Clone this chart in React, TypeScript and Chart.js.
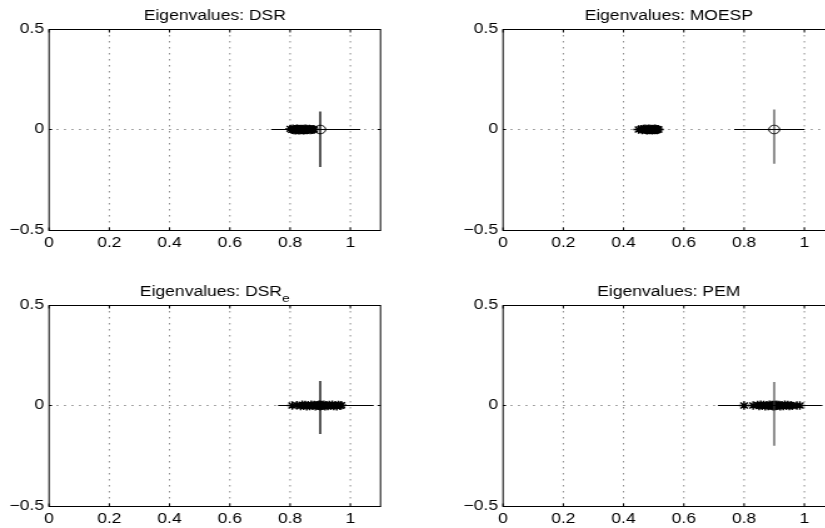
import React, { useEffect, useRef } from "react";
import { Chart, registerables } from "chart.js";

Chart.register(...registerables);

// ---------- data ----------
const xTicks = [0, 0.2, 0.4, 0.6, 0.8, 1];
const xTickLabels = ["0", "0.2", "0.4", "0.6", "0.8", "1"];
const yTicks = [-0.5, 0, 0.5];
const yTickLabels = ["\u22120.5", "0", "0.5"];
const xRange = [0, 1.1];
const yRange = [-0.5, 0.5];

const panelTitles = ["Eigenvalues: DSR", "Eigenvalues: MOESP", "Eigenvalues: DSR", "Eigenvalues: PEM"];
const panelSubscripts = ["", "", "e", ""];

const trueRe = 0.9;
const trueIm = 0;

const dsrRe = [0.801, 0.806, 0.809, 0.812, 0.815, 0.818, 0.82, 0.822, 0.824, 0.826, 0.828, 0.83, 0.832, 0.834, 0.836, 0.838, 0.84, 0.842, 0.844, 0.846, 0.848, 0.85, 0.852, 0.854, 0.856, 0.858, 0.861, 0.864, 0.867, 0.87, 0.873, 0.876, 0.88];
const dsrIm = [0.003, -0.002, 0.004, -0.003, 0.001, -0.004, 0.003, -0.001, 0.004, -0.003, 0.002, -0.004, 0.001, 0.003, -0.003, 0.002, -0.001, 0.003, -0.004, 0.002, -0.003, 0.004, -0.002, 0.003, -0.003, 0.002, -0.002, 0.003, -0.003, 0.002, -0.001, 0.001, 0];

const moespRe = [0.45, 0.458, 0.462, 0.466, 0.469, 0.472, 0.475, 0.477, 0.479, 0.481, 0.483, 0.485, 0.487, 0.489, 0.491, 0.493, 0.495, 0.497, 0.499, 0.501, 0.503, 0.505, 0.507, 0.509, 0.511, 0.513, 0.516];
const moespIm = [0, 0.002, -0.003, 0.003, -0.002, 0.004, -0.003, 0.002, -0.004, 0.003, -0.001, 0.004, -0.003, 0.002, -0.002, 0.003, -0.004, 0.002, -0.001, 0.003, -0.003, 0.004, -0.002, 0.002, -0.003, 0.001, 0];

const dsreRe = [0.807, 0.822, 0.835, 0.84, 0.845, 0.85, 0.855, 0.86, 0.865, 0.87, 0.875, 0.88, 0.884, 0.888, 0.892, 0.896, 0.9, 0.904, 0.908, 0.912, 0.916, 0.92, 0.925, 0.93, 0.935, 0.94, 0.945, 0.95, 0.955, 0.96, 0.966, 0.97];
const dsreIm = [0, 0.001, -0.003, 0.004, -0.002, 0.003, -0.004, 0.002, -0.003, 0.004, -0.001, 0.003, -0.004, 0.002, -0.002, 0.004, -0.003, 0.003, -0.002, 0.004, -0.004, 0.002, -0.003, 0.003, -0.002, 0.004, -0.003, 0.002, -0.004, 0.003, -0.001, 0.001];

const pemRe = [0.8, 0.83, 0.845, 0.85, 0.855, 0.86, 0.865, 0.87, 0.875, 0.88, 0.884, 0.888, 0.892, 0.896, 0.9, 0.904, 0.908, 0.912, 0.916, 0.92, 0.925, 0.93, 0.935, 0.94, 0.945, 0.95, 0.955, 0.96, 0.975, 0.985];
const pemIm = [0, 0, 0.003, -0.003, 0.004, -0.002, 0.003, -0.004, 0.002, -0.003, 0.004, -0.002, 0.003, -0.004, 0.002, -0.003, 0.004, -0.002, 0.003, -0.004, 0.002, -0.003, 0.004, -0.002, 0.003, -0.003, 0.002, -0.002, 0, 0];

const estRe = [dsrRe, moespRe, dsreRe, pemRe];
const estIm = [dsrIm, moespIm, dsreIm, pemIm];

const hSpans = [[0.737, 1.033], [0.767, 1.0], [0.76, 1.077], [0.713, 1.06]];
const vSpans = [[-0.187, 0.09], [-0.17, 0.1], [-0.142, 0.122], [-0.2, 0.117]];

// ---------- layout / style ----------
const STRETCH = 1.25;
const FONT = '"Liberation Sans", Arial, Helvetica, sans-serif';
const W = 315;
const H = 252;
const Y_AXIS_W = 39.2;
const X_AXIS_H = 22;
const PAD_TOP = 29;
const PLOT_W = 265;
const PAD_RIGHT = W - Y_AXIS_W - PLOT_W;
const placements = [
  { left: 0, top: 0 },
  { left: 454, top: 0 },
  { left: 0, top: 276 },
  { left: 454, top: 276 },
];
const vLineStyle = [
  { color: "#000", width: 1.3 },
  { color: "#3a3a3a", width: 1.1 },
  { color: "#000", width: 1.3 },
  { color: "#3a3a3a", width: 1.1 },
];

const framePlugin = {
  id: "frame",
  beforeDatasetsDraw(chart: any) {
    const { ctx, chartArea: a, scales } = chart;
    const x = scales.x;
    const y = scales.y;
    ctx.save();
    ctx.strokeStyle = "#8a8a8a";
    ctx.lineWidth = 1;
    ctx.setLineDash([1.5, 4.5]);
    for (const v of xTicks) {
      if (v <= xRange[0] || v >= xRange[1]) continue;
      const px = x.getPixelForValue(v);
      ctx.beginPath();
      ctx.moveTo(px, a.top);
      ctx.lineTo(px, a.bottom);
      ctx.stroke();
    }
    for (const v of yTicks) {
      if (v <= yRange[0] || v >= yRange[1]) continue;
      const py = Math.floor(y.getPixelForValue(v)) + 0.5;
      ctx.beginPath();
      ctx.moveTo(a.left, py);
      ctx.lineTo(a.right, py);
      ctx.stroke();
    }
    ctx.restore();
  },
  afterDraw(chart: any, _args: any, opts: any) {
    const { ctx, chartArea: a, scales } = chart;
    const x = scales.x;
    const y = scales.y;
    ctx.save();
    ctx.setLineDash([]);
    ctx.strokeStyle = "#000";
    ctx.lineWidth = 1;
    const top = Math.floor(a.top) + 0.5;
    const bottom = Math.floor(a.bottom) + 0.5;
    ctx.strokeRect(a.left, top, a.right - a.left, bottom - top);
    ctx.beginPath();
    for (const v of xTicks) {
      const px = x.getPixelForValue(v);
      ctx.moveTo(px, bottom);
      ctx.lineTo(px, bottom - 3);
      ctx.moveTo(px, top);
      ctx.lineTo(px, top + 3);
    }
    for (const v of yTicks) {
      const py = Math.floor(y.getPixelForValue(v)) + 0.5;
      ctx.moveTo(a.left, py);
      ctx.lineTo(a.left + 2.4, py);
      ctx.moveTo(a.right, py);
      ctx.lineTo(a.right - 2.4, py);
    }
    ctx.stroke();

    const title = opts.title as string;
    const sub = opts.sub as string;
    ctx.fillStyle = "#000";
    ctx.textBaseline = "alphabetic";
    ctx.textAlign = "left";
    ctx.font = `14px ${FONT}`;
    const w1 = ctx.measureText(title).width;
    ctx.font = `11px ${FONT}`;
    const w2 = sub ? ctx.measureText(sub).width : 0;
    const cx = (a.left + a.right) / 2;
    const x0 = cx - (w1 + w2) / 2;
    const base = a.top - 9.5;
    ctx.font = `14px ${FONT}`;
    ctx.fillText(title, x0, base);
    if (sub) {
      ctx.font = `11px ${FONT}`;
      ctx.fillText(sub, x0 + w1, base + 6);
    }
    ctx.restore();
  },
};

function makeConfig(idx: number): any {
  const re = estRe[idx];
  const im = estIm[idx];
  const [h0, h1] = hSpans[idx];
  const [v0, v1] = vSpans[idx];
  return {
    type: "scatter",
    data: {
      datasets: [
        {
          label: "hspan",
          data: [{ x: h0, y: trueIm }, { x: h1, y: trueIm }],
          showLine: true,
          borderColor: "#000",
          borderWidth: 1,
          pointRadius: 0,
        },
        {
          label: "vspan",
          data: [{ x: trueRe, y: v0 }, { x: trueRe, y: v1 }],
          showLine: true,
          borderColor: vLineStyle[idx].color,
          borderWidth: vLineStyle[idx].width,
          pointRadius: 0,
        },
        {
          label: "true",
          data: [{ x: trueRe, y: trueIm }],
          pointStyle: "circle",
          pointRadius: 4.3,
          borderColor: "#000",
          backgroundColor: "rgba(0,0,0,0)",
          borderWidth: 1,
        },
        {
          label: "estimated",
          data: re.map((v, i) => ({ x: v, y: im[i] })),
          pointStyle: "star",
          pointRadius: 4.2,
          borderColor: "#000",
          backgroundColor: "#000",
          borderWidth: 1.4,
        },
      ],
    },
    options: {
      animation: false,
      responsive: false,
      devicePixelRatio: 1,
      events: [],
      layout: { padding: { left: 0, right: PAD_RIGHT, top: PAD_TOP, bottom: 0 } },
      plugins: {
        legend: { display: false },
        tooltip: { enabled: false },
        title: { display: false },
        frame: { title: panelTitles[idx], sub: panelSubscripts[idx] },
      },
      scales: {
        x: {
          type: "linear",
          min: xRange[0],
          max: xRange[1],
          afterBuildTicks: (s: any) => {
            s.ticks = xTicks.map((v) => ({ value: v }));
          },
          afterFit: (s: any) => {
            s.height = X_AXIS_H;
          },
          ticks: {
            autoSkip: false,
            maxRotation: 0,
            padding: 5,
            color: "#000",
            font: { family: FONT, size: 14 },
            callback: (_v: any, i: number) => xTickLabels[i],
          },
          grid: { display: false, drawTicks: false },
          border: { display: false },
        },
        y: {
          type: "linear",
          min: yRange[0],
          max: yRange[1],
          afterBuildTicks: (s: any) => {
            s.ticks = yTicks.map((v) => ({ value: v }));
          },
          afterFit: (s: any) => {
            s.width = Y_AXIS_W;
          },
          ticks: {
            autoSkip: false,
            padding: 4,
            color: "#000",
            font: { family: FONT, size: 14 },
            callback: (_v: any, i: number) => yTickLabels[i],
          },
          grid: { display: false, drawTicks: false },
          border: { display: false },
        },
      },
    },
    plugins: [framePlugin],
  };
}

function Panel({ idx, left, top }: { idx: number; left: number; top: number }) {
  const ref = useRef<HTMLCanvasElement>(null);
  useEffect(() => {
    const chart = new Chart(ref.current as HTMLCanvasElement, makeConfig(idx));
    return () => chart.destroy();
  }, [idx]);
  return (
    <canvas
      ref={ref}
      width={W}
      height={H}
      style={{ position: "absolute", left, top, width: W * STRETCH, height: H }}
    />
  );
}

export default function App() {
  return (
    <div
      style={{
        position: "fixed",
        left: 0,
        top: 0,
        width: 825,
        height: 528,
        overflow: "hidden",
        background: "#fff",
      }}
    >
      {placements.map((p, i) => (
        <Panel key={i} idx={i} left={p.left} top={p.top} />
      ))}
    </div>
  );
}
